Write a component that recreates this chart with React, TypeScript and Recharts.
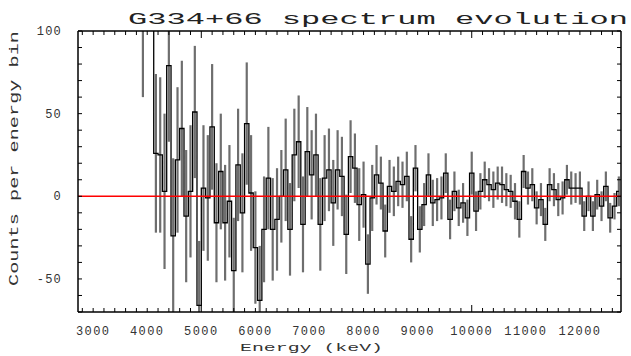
import React from 'react'
import { ComposedChart, Line, XAxis, YAxis, ErrorBar, ReferenceLine } from 'recharts'

// bin centres (keV)
const ENERGY = [
  3920, 4000, 4080, 4160, 4240, 4320, 4400, 4480, 4560, 4640,
  4720, 4800, 4880, 4960, 5040, 5120, 5200, 5280, 5360, 5440,
  5520, 5600, 5680, 5760, 5840, 5920, 6000, 6080, 6160, 6240,
  6320, 6400, 6480, 6560, 6640, 6720, 6800, 6880, 6960, 7040,
  7120, 7200, 7280, 7360, 7440, 7520, 7600, 7680, 7760, 7840,
  7920, 8000, 8080, 8160, 8240, 8320, 8400, 8480, 8560, 8640,
  8720, 8800, 8880, 8960, 9040, 9120, 9200, 9280, 9360, 9440,
  9520, 9600, 9680, 9760, 9840, 9920, 10000, 10080, 10160, 10240,
  10320, 10400, 10480, 10560, 10640, 10720, 10800, 10880, 10960, 11040,
  11120, 11200, 11280, 11360, 11440, 11520, 11600, 11680, 11760, 11840,
  11920, 12000, 12080, 12160, 12240, 12320, 12400, 12480, 12560, 12640, 12720,
]

// counts per bin
const COUNTS = [
  115, 125, 130, 26, 25, 3, 79, -24, 22, 41,
  -12, 3, 51, -66, 5, -1, 42, -16, 15, -16,
  -3, -45, 19, -10, 44, 2, -31, -63, -20, 11,
  -20, -14, 0, 16, -20, 25, 33, -17, 27, 13,
  25, -17, 11, 16, -4, 16, 12, -23, 24, 17,
  -5, 1, -41, -1, 13, 8, -21, 6, 3, 9,
  7, 12, -26, 17, -20, -5, 13, -4, -2, -1,
  14, -14, 3, -7, -4, -13, 14, -9, 3, 10,
  7, 4, 8, 7, 4, 3, -3, -14, 15, 5,
  7, -7, -2, -17, 7, 4, -2, -1, 10, 5,
  5, 5, -12, 0, -12, 1, -6, 6, -13, -6, 3,
]

// 1-sigma errors
const ERRORS = [
  55, 20, 20, 48, 47, 47, 46, 47, 44, 41,
  40, 40, 40, 39, 38, 38, 38, 36, 35, 35,
  34, 32, 34, 36, 37, 35, 34, 33, 32, 31,
  31, 31, 28, 31, 28, 28, 28, 29, 27, 27,
  25, 28, 26, 25, 26, 24, 24, 24, 22, 21,
  22, 20, 18, 20, 18, 16, 16, 16, 15, 15,
  14, 15, 14, 14, 14, 13, 13, 14, 13, 13,
  12, 12, 12, 11, 12, 11, 13, 12, 11, 11,
  10, 11, 10, 11, 10, 10, 11, 11, 10, 10,
  10, 10, 10, 10, 10, 10, 10, 10, 9, 10,
  9, 10, 9, 9, 9, 9, 9, 9, 9, 8, 9,
]

const X_LABELS = [3000, 4000, 5000, 6000, 7000, 8000, 9000, 10000, 11000, 12000]
const Y_LABELS = [100, 50, 0, -50]
const Y_TICKS = [-70, -60, -50, -40, -30, -20, -10, 0, 10, 20, 30, 40, 50, 60, 70, 80, 90, 100]
const X_TICKS = Array.from({ length: 50 }, (_, i) => 2800 + i * 200)

const X_DOMAIN: [number, number] = [2720, 12760]
const Y_DOMAIN: [number, number] = [-70, 100]

const FONT = '"Liberation Mono", "DejaVu Sans Mono", monospace'

const rows = ENERGY.map((e, i) => ({ e, c: COUNTS[i], err: ERRORS[i] }))

// error bars are not inside the line's clip, so clip them to the plot box here
const css = `.recharts-errorBars, .recharts-errorBar { clip-path: url(#plotBox); }`

function BottomTick(props: any) {
  const { x, y, payload } = props
  const v = payload.value
  const len = v % 5000 === 0 ? 7 : 4
  return (
    <g>
      <line x1={x} y1={y} x2={x} y2={y - len} stroke="#000" strokeWidth={1} />
      {X_LABELS.includes(v) && (
        <text x={x} y={y + 23} textAnchor="middle" fontFamily={FONT} fontSize={12}
          letterSpacing={1.4} fill="#333">{v}</text>
      )}
    </g>
  )
}

function TopTick(props: any) {
  const { x, y, payload } = props
  const len = payload.value % 5000 === 0 ? 7 : 4
  return <line x1={x} y1={y} x2={x} y2={y + len} stroke="#000" strokeWidth={1} />
}

function LeftTick(props: any) {
  const { x, y, payload } = props
  const v = payload.value
  return (
    <g>
      <line x1={x} y1={y} x2={x + 4} y2={y} stroke="#000" strokeWidth={1} />
      {Y_LABELS.includes(v) && (
        <text x={x - 16} y={y + 4} textAnchor="end" fontFamily={FONT} fontSize={12}
          letterSpacing={1.2} fill="#333">{v}</text>
      )}
    </g>
  )
}

function RightTick(props: any) {
  const { x, y } = props
  return <line x1={x} y1={y} x2={x - 4} y2={y} stroke="#000" strokeWidth={1} />
}

export default function App() {
  return (
    <div style={{ position: 'absolute', left: 0, top: 0, width: 631, height: 356, background: '#fff' }}>
      <style>{css}</style>
      <svg width={0} height={0} style={{ position: 'absolute' }}>
        <defs>
          <clipPath id="plotBox" clipPathUnits="userSpaceOnUse">
            <rect x={78} y={31} width={543} height={281} />
          </clipPath>
        </defs>
      </svg>
      <ComposedChart width={631} height={356} data={rows}
        margin={{ top: 21, right: 0, bottom: 0, left: 0 }}>
        <XAxis dataKey="e" type="number" domain={X_DOMAIN} allowDataOverflow
          ticks={X_TICKS} interval={0} height={44} tickLine={false} tickSize={0} tickMargin={0}
          tick={BottomTick} axisLine={{ stroke: '#000', strokeWidth: 1.5 }} />
        <XAxis xAxisId="top" orientation="top" dataKey="e" type="number" domain={X_DOMAIN}
          allowDataOverflow ticks={X_TICKS} interval={0} height={10} tickLine={false}
          tickSize={0} tickMargin={0} tick={TopTick} axisLine={{ stroke: '#000', strokeWidth: 1.5 }} />
        <YAxis type="number" domain={Y_DOMAIN} allowDataOverflow ticks={Y_TICKS} interval={0}
          width={78} tickLine={false} tickSize={0} tickMargin={0} tick={LeftTick}
          axisLine={{ stroke: '#000', strokeWidth: 1.5 }} />
        <YAxis yAxisId="right" orientation="right" type="number" domain={Y_DOMAIN}
          allowDataOverflow ticks={Y_TICKS} interval={0} width={10} tickLine={false}
          tickSize={0} tickMargin={0} tick={RightTick} axisLine={{ stroke: '#000', strokeWidth: 1.5 }} />
        <Line type="step" dataKey="c" stroke="#000" strokeWidth={1.3} dot={false}
          activeDot={false} isAnimationActive={false}>
          <ErrorBar dataKey="err" width={0} stroke="#6e6e6e" strokeWidth={2.2}
            isAnimationActive={false} />
        </Line>
        <ReferenceLine y={0} stroke="#ff0000" strokeWidth={1.5} />
      </ComposedChart>
      <svg width={631} height={356} style={{ position: 'absolute', left: 0, top: 0, pointerEvents: 'none' }}>
        <text x={128} y={23.5} fontFamily={FONT} fontSize={17} fill="#222"
          textLength={500} lengthAdjust="spacingAndGlyphs">G334+66 spectrum evolution</text>
        <text x={240} y={351} fontFamily={FONT} fontSize={11.5} fill="#333"
          textLength={143} lengthAdjust="spacingAndGlyphs">Energy (keV)</text>
        <text x={18} y={286} transform="rotate(-90 18 286)" fontFamily={FONT} fontSize={12}
          fill="#333" textLength={255} lengthAdjust="spacingAndGlyphs">Counts per energy bin</text>
      </svg>
    </div>
  )
}
